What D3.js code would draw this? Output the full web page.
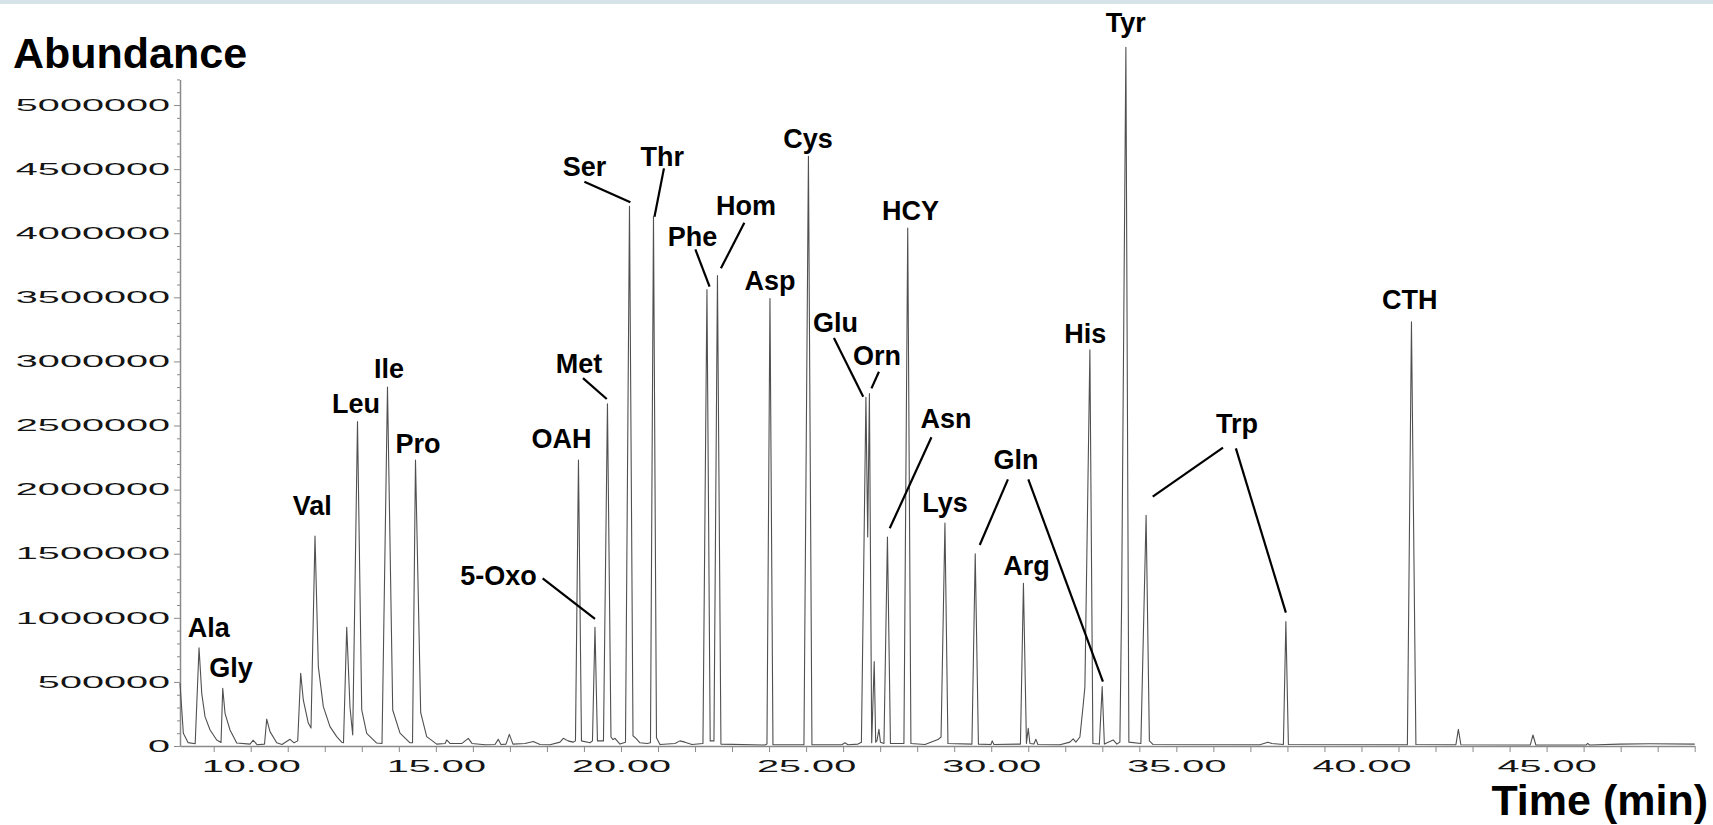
<!DOCTYPE html>
<html><head><meta charset="utf-8">
<script src="https://cdn.jsdelivr.net/npm/d3@7"></script>
<style>body{margin:0;background:#fff;overflow:hidden}</style>
</head><body><svg id="c" width="1713" height="825"></svg>
<script>
// Chromatogram trace vertices (time in min, abundance in thousands)
const traceTime = [8.09,8.18,8.31,8.50,8.604,8.677,8.766,8.902,9.082,9.198,9.244,9.306,9.441,9.622,9.98,10.07,10.17,10.373,10.432,10.521,10.702,10.845,11.061,11.17,11.269,11.35,11.42,11.555,11.628,11.736,11.826,11.961,12.141,12.322,12.457,12.506,12.593,12.682,12.755,12.884,12.998,13.133,13.403,13.546,13.694,13.835,14.032,14.302,14.37,14.45,14.591,14.753,15.023,15.25,15.293,15.38,15.706,15.876,15.976,16.327,16.597,16.686,16.759,16.895,16.984,17.083,17.407,17.632,17.813,18.083,18.353,18.442,18.569,18.704,18.771,18.852,18.933,19.163,19.23,19.298,19.365,19.527,19.635,19.73,19.784,19.838,19.973,20.122,20.23,20.325,20.405,20.513,20.702,20.797,20.878,20.959,21.053,21.458,21.593,21.728,21.917,22.214,22.322,22.41,22.511,22.606,22.70,23.889,23.943,24.024,24.105,24.942,25.063,25.158,25.968,26.049,26.13,26.40,26.494,26.616,26.664,26.71,26.772,26.84,26.88,26.913,26.967,27.008,27.103,27.197,27.278,27.642,27.745,27.831,28.21,28.561,28.645,28.75,28.831,29.479,29.568,29.654,29.992,30.027,30.073,30.789,30.87,30.951,31.0,31.045,31.153,31.207,31.261,31.855,32.125,32.214,32.287,32.395,32.484,32.53,32.665,32.746,32.921,32.997,33.056,33.294,33.394,33.475,33.521,33.637,33.718,34.042,34.183,34.272,34.367,37.256,37.472,37.58,37.891,37.958,38.026,41.24,41.35,41.47,42.55,42.617,42.685,44.56,44.632,44.71,46.07,46.11,46.16,46.98,47.79,49.0];
const traceAbundance = [489,100,26,18,767,411,229,125,47,28,450,255,125,23,15,45,10,15,210,112,25,12,52,25,40,567,359,179,140,1638,619,307,151,73,30,25,926,300,86,2530,281,99,23,20,2800,281,100,25,25,2230,260,73,15,20,47,20,20,60,20,10,12,52,12,15,91,15,20,35,12,10,30,60,40,30,40,2230,40,25,40,926,40,40,2670,70,50,60,15,30,4210,80,60,25,20,25,4130,65,12,20,40,30,12,20,3560,40,40,3670,15,8,15,3490,10,10,4600,10,10,25,10,15,30,2720,1630,2750,25,658,30,40,130,30,20,1630,20,20,4040,20,12,50,70,1740,20,15,1500,15,12,40,12,15,1270,20,138,20,15,52,12,10,30,55,30,70,320,460,3090,20,15,463,15,47,15,30,1100,5450,30,20,1800,40,12,10,30,20,12,970,12,10,3310,12,10,130,10,8,86,8,8,20,8,15,18,15];

// Peak labels: text, anchor time (min), anchor abundance (thousands)
const labelText = ["Ala","Gly","Val","Leu","Ile","Pro","OAH","5-Oxo","Met","Ser","Thr","Phe","Hom","Asp","Cys","Glu","Orn","HCY","Asn","Lys","Gln","Arg","His","Tyr","Trp","CTH"];
const labelTime = [8.866,9.468,11.663,12.844,13.735,14.518,18.396,16.692,18.866,19.014,21.115,21.931,23.376,24.024,25.050,25.795,26.913,27.818,28.777,28.750,30.667,30.951,32.541,33.637,36.635,41.302];
const labelAbund = [850,538,1802,2600,2868,2283,2322,1256,2909,4449,4527,3903,4142,3557,4662,3232,2972,4103,2478,1828,2161,1334,3141,5567,2439,3406];

// Leader lines: from (time, abundance) to (time, abundance)
const leaderT1 = [17.885,18.974,19.012,21.161,22.009,23.332,25.752,26.967,28.385,30.451,31.002,36.26,36.608];
const leaderA1 = [1308,2870,4402,4506,3874,4082,3182,2920,2408,2080,2080,2327,2322];
const leaderT2 = [19.298,19.616,20.254,20.905,22.393,22.70,26.543,26.765,27.259,29.690,33.017,34.362,37.958];
const leaderA2 = [991,2707,4241,4129,3583,3726,2725,2790,1698,1568,502,1945,1040];

// Axis ticks
const yMajorTicks = [0,500000,1000000,1500000,2000000,2500000,3000000,3500000,4000000,4500000,5000000];
const xLabelTicks = [10,15,20,25,30,35,40,45];

const svg = d3.select("#c");
svg.append("rect").attr("x",0).attr("y",0).attr("width",1713).attr("height",4).attr("fill","#d6e4ea");

const x = d3.scaleLinear().domain([8.09, 49]).range([180, 1694.7]);
const y = d3.scaleLinear().domain([0, 5200000]).range([746, 79.4]);

const FONT = "'Liberation Sans', Arial, Helvetica, sans-serif";
const STRETCH = 2.4;

function stretch(sel){
  sel.each(function(){
    const w = this.getComputedTextLength();
    d3.select(this).attr("textLength", w*STRETCH).attr("lengthAdjust","spacingAndGlyphs");
  });
}

// Y axis minor ticks
const yMinor = d3.range(0, 5200001, 100000).filter(v => v % 500000 !== 0);
const gyMinor = svg.append("g").attr("transform","translate(180,0)")
  .call(d3.axisLeft(y).tickValues(yMinor).tickSize(3).tickSizeOuter(0).tickFormat(""));
gyMinor.select(".domain").remove();
gyMinor.selectAll("line").attr("stroke","#8a8a8a");

const gy = svg.append("g").attr("transform","translate(180,0)")
  .call(d3.axisLeft(y).tickValues(yMajorTicks).tickSize(6).tickSizeOuter(0).tickPadding(4).tickFormat(d3.format("d")));
gy.select(".domain").attr("stroke","#8a8a8a").attr("stroke-width",1.5);
gy.selectAll("line").attr("stroke","#8a8a8a");
gy.selectAll("text").attr("font-family",FONT).attr("font-size",16.5).attr("fill","#151515").call(stretch);

// X axis
const gxMinor = svg.append("g").attr("transform","translate(0,746)")
  .call(d3.axisBottom(x).tickValues(d3.range(9, 50, 1)).tickSize(6).tickSizeOuter(0).tickFormat(""));
gxMinor.select(".domain").attr("stroke","#8a8a8a").attr("stroke-width",1.5);
gxMinor.selectAll("line").attr("stroke","#8a8a8a");
const gx = svg.append("g").attr("transform","translate(0,746)")
  .call(d3.axisBottom(x).tickValues(xLabelTicks).tickSize(0).tickSizeOuter(0).tickPadding(14).tickFormat(d3.format(".2f")));
gx.select(".domain").remove();
gx.selectAll("text").attr("font-family",FONT).attr("font-size",16.5).attr("fill","#151515").call(stretch);

// Trace
const pts = traceTime.map((t,i)=>[t, traceAbundance[i]*1000]);
svg.append("path").datum(pts)
  .attr("d", d3.line().x(d=>x(d[0])).y(d=>y(d[1])))
  .attr("fill","none").attr("stroke","#505050").attr("stroke-width",1.1).attr("stroke-linejoin","round");

// Leaders
svg.append("g").selectAll("line").data(leaderT1).join("line")
  .attr("x1",(d,i)=>x(leaderT1[i])).attr("y1",(d,i)=>y(leaderA1[i]*1000))
  .attr("x2",(d,i)=>x(leaderT2[i])).attr("y2",(d,i)=>y(leaderA2[i]*1000))
  .attr("stroke","#000").attr("stroke-width",2.2);

// Labels
svg.append("g").selectAll("text").data(labelText).join("text")
  .attr("x",(d,i)=>x(labelTime[i])).attr("y",(d,i)=>y(labelAbund[i]*1000))
  .attr("text-anchor","middle").attr("font-family",FONT).attr("font-weight","bold")
  .attr("font-size",27).attr("fill","#000").text(d=>d);

// Axis titles
svg.append("text").attr("x",13).attr("y",68).attr("font-family",FONT).attr("font-weight","bold")
  .attr("font-size",43).attr("fill","#000").text("Abundance");
svg.append("text").attr("x",1708).attr("y",815).attr("text-anchor","end").attr("font-family",FONT).attr("font-weight","bold")
  .attr("font-size",43).attr("fill","#000").text("Time (min)");
</script>
</body></html>
